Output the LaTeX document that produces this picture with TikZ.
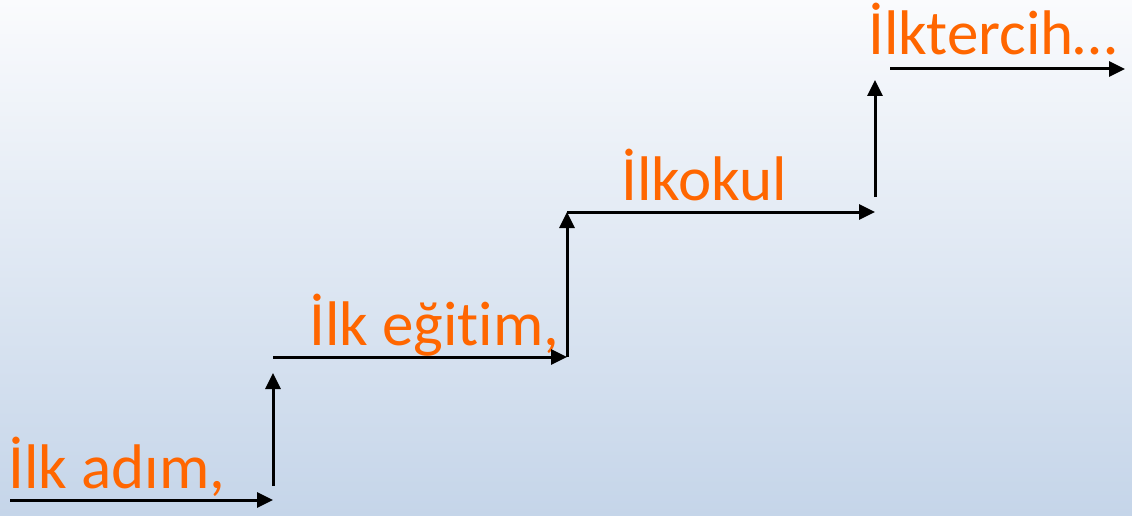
\documentclass[tikz,border=0pt]{standalone}
\usepackage{fontspec}
\setmainfont[Ligatures=NoCommon]{Carlito}
\usetikzlibrary{arrows.meta,positioning}
\definecolor{stepOrange}{RGB}{255,102,0}
\definecolor{skyTop}{RGB}{250,251,253}
\definecolor{skyBottom}{RGB}{197,213,233}
\tikzset{
		>={Triangle[length=16pt,width=15pt]},
		stairline/.style={draw, line width=3pt, ->},
		steptext/.style={
			anchor=base west,
			inner sep=0pt,
			text=stepOrange,
			font=\fontsize{63}{70}\selectfont},
	}
\begin{document}
\begin{tikzpicture}[x=1pt,y=1pt]
			% background
			\shade[top color=skyTop, bottom color=skyBottom] (0,0) rectangle (1132,515);
			\useasboundingbox (0,0) rectangle (1132,515);
			
			% corners of the stairs
			\coordinate (s0) at (10,15);
			\coordinate (s1) at (273,15);
			\coordinate (s2) at (273,158);
			\coordinate (s3) at (567,158);
			\coordinate (s4) at (567,303);
			\coordinate (s5) at (875,303);
			\coordinate (s6) at (875,446);
			\coordinate (s7) at (1125,446);
			
			\node[steptext] (adim) at (8,27) {İlk adım,};
			\node[steptext] (egitim) at (309,170) {İlk eğitim,};
			\node[steptext] (okul) at (621,315) {İlkokul};
			\node[steptext] (tercih) at (868,460) {İlktercih…};
			
			\draw[stairline] (s0) -- (s1);
			\draw[stairline, shorten <=14pt, shorten >=16pt] (s1) -- (s2);
			\draw[stairline] (s2) -- (s3);
			\draw[stairline] (s3) -- (s4);
			\draw[stairline] (s4) -- (s5);
			\draw[stairline, shorten <=15pt, shorten >=11pt] (s5) -- (s6);
			\draw[stairline, shorten <=15pt] (s6) -- (s7);
\end{tikzpicture}
\end{document}
